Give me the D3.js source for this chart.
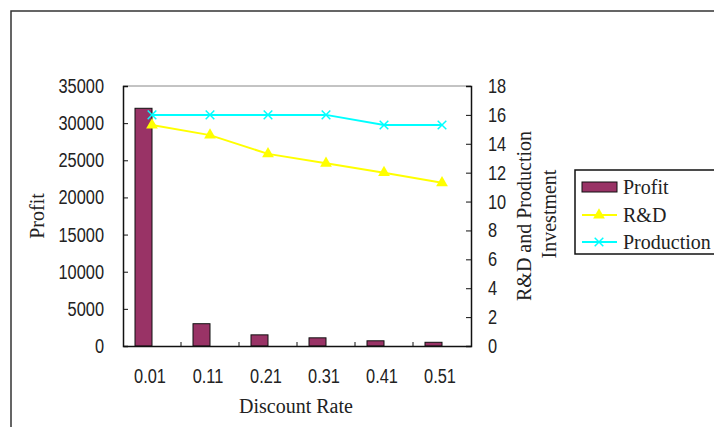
<!DOCTYPE html>
<html><head><meta charset="utf-8">
<script src="https://cdn.jsdelivr.net/npm/d3@7"></script>
<style>body{margin:0;background:#fff}svg{display:block}</style>
</head><body>
<svg id="c" width="714" height="427"></svg>
<script>
const categories = ["0.01","0.11","0.21","0.31","0.41","0.51"];
const profit = [32000, 3000, 1500, 1100, 700, 500];
const rnd = [15.3, 14.6, 13.3, 12.65, 12.0, 11.3];
const production = [16.0, 16.0, 16.0, 16.0, 15.3, 15.3];
const leftTicks = [0,5000,10000,15000,20000,25000,30000,35000];
const rightTicks = [0,2,4,6,8,10,12,14,16,18];
const seriesNames = ["Profit","R&D","Production"];

const svg = d3.select("#c");
function num(g, x, y, s, anchor) {
  return g.append("text")
    .attr("transform", `translate(${x},${y}) scale(0.78,1)`)
    .attr("text-anchor", anchor || "start")
    .attr("font-family", "Liberation Sans").attr("font-size", 21).attr("fill", "#222")
    .text(s);
}
function word(g, x, y, s, anchor, rot) {
  return g.append("text")
    .attr("transform", `translate(${x},${y})` + (rot ? ` rotate(${rot})` : ""))
    .attr("text-anchor", anchor || "start")
    .attr("font-family", "Liberation Serif").attr("font-size", 20).attr("fill", "#222")
    .text(s);
}

// outer frame
svg.append("rect").attr("x", 11).attr("y", 11).attr("width", 800).attr("height", 600)
  .attr("fill", "none").attr("stroke", "#333").attr("stroke-width", 1.5);

const L = 123, R = 471, T = 86, B = 346;
const x = d3.scaleBand().domain(categories).range([L, R]);
const yL = d3.scaleLinear().domain([0, 35000]).range([B, T]);
const yR = d3.scaleLinear().domain([0, 18]).range([B, T]);

svg.append("line").attr("x1", L).attr("x2", R).attr("y1", T).attr("y2", T)
  .attr("stroke", "#888").attr("stroke-width", 1);

// bars
const bw = 17;
svg.append("g").selectAll("rect").data(profit).join("rect")
  .attr("x", (d, i) => x(categories[i]) + x.bandwidth() / 2 - bw)
  .attr("y", d => yL(d))
  .attr("width", bw)
  .attr("height", d => B - yL(d))
  .attr("fill", "#993366").attr("stroke", "#111").attr("stroke-width", 1);

// axes
const axL = svg.append("g").attr("transform", `translate(${L},0)`)
  .call(d3.axisLeft(yL).tickValues(leftTicks).tickSize(-5).tickFormat(""));
const axR = svg.append("g").attr("transform", `translate(${R},0)`)
  .call(d3.axisRight(yR).tickValues(rightTicks).tickSize(-5).tickFormat(""));
const axB = svg.append("g").attr("transform", `translate(0,${B})`)
  .call(d3.axisBottom(x).tickSize(0).tickFormat(""));
[axL, axR, axB].forEach(a => {
  a.selectAll("path.domain").attr("stroke", "#111").attr("stroke-width", 1.5);
  a.selectAll("line").attr("stroke", "#111").attr("stroke-width", 1);
});
axL.selectAll(".tick").filter(d => d === 0 || d === 35000).remove();
axR.selectAll(".tick").filter(d => d === 0 || d === 18).remove();
svg.append("g").selectAll("line").data(categories.slice(1)).join("line")
  .attr("x1", d => x(d)).attr("x2", d => x(d))
  .attr("y1", B).attr("y2", B - 4).attr("stroke", "#111").attr("stroke-width", 1);

// tick labels
const lab = svg.append("g");
leftTicks.forEach(v => num(lab, 104, yL(v) + 7, String(v), "end"));
rightTicks.forEach(v => num(lab, 488, yR(v) + 7, String(v), "start"));
categories.forEach(c => num(lab, x(c) + x.bandwidth() / 2 - 2, 383, c, "middle"));

// titles
word(lab, 44, 216, "Profit", "middle", -90);
word(lab, 531, 216, "R&D and Production", "middle", -90);
word(lab, 556, 214, "Investment", "middle", -90);
word(lab, 296, 413, "Discount Rate", "middle");

// lines
const cx = i => x(categories[i]) + x.bandwidth() / 2;
const lineR = d3.line().x((d, i) => cx(i)).y(d => yR(d));
svg.append("path").datum(rnd).attr("d", lineR)
  .attr("fill", "none").attr("stroke", "#FFFF00").attr("stroke-width", 2);
svg.append("path").datum(production).attr("d", lineR)
  .attr("fill", "none").attr("stroke", "#00FFFF").attr("stroke-width", 2);

const tri = d3.symbol().type(d3.symbolTriangle).size(60);
svg.append("g").selectAll("path").data(rnd).join("path")
  .attr("transform", (d, i) => `translate(${cx(i)},${yR(d)})`)
  .attr("d", tri).attr("fill", "#FFFF00");
const xm = d3.symbol().type(d3.symbolX).size(50);
svg.append("g").selectAll("path").data(production).join("path")
  .attr("transform", (d, i) => `translate(${cx(i)},${yR(d)})`)
  .attr("d", xm).attr("fill", "none").attr("stroke", "#00FFFF").attr("stroke-width", 1.5);

// legend
const lg = svg.append("g");
lg.append("rect").attr("x", 575).attr("y", 170).attr("width", 160).attr("height", 84)
  .attr("fill", "#fff").attr("stroke", "#111").attr("stroke-width", 1.5);
const ly = [187, 215, 242];
lg.append("rect").attr("x", 582).attr("y", ly[0] - 5).attr("width", 35).attr("height", 10)
  .attr("fill", "#993366").attr("stroke", "#111").attr("stroke-width", 1);
lg.append("line").attr("x1", 582).attr("x2", 617).attr("y1", ly[1]).attr("y2", ly[1])
  .attr("stroke", "#FFFF00").attr("stroke-width", 2);
lg.append("path").attr("transform", `translate(599,${ly[1]})`).attr("d", tri).attr("fill", "#FFFF00");
lg.append("line").attr("x1", 582).attr("x2", 617).attr("y1", ly[2]).attr("y2", ly[2])
  .attr("stroke", "#00FFFF").attr("stroke-width", 2);
lg.append("path").attr("transform", `translate(599,${ly[2]})`).attr("d", xm)
  .attr("fill", "none").attr("stroke", "#00FFFF").attr("stroke-width", 1.5);
seriesNames.forEach((s, i) => word(lg, 623, ly[i] + 7, s, "start"));
</script>
</body></html>
